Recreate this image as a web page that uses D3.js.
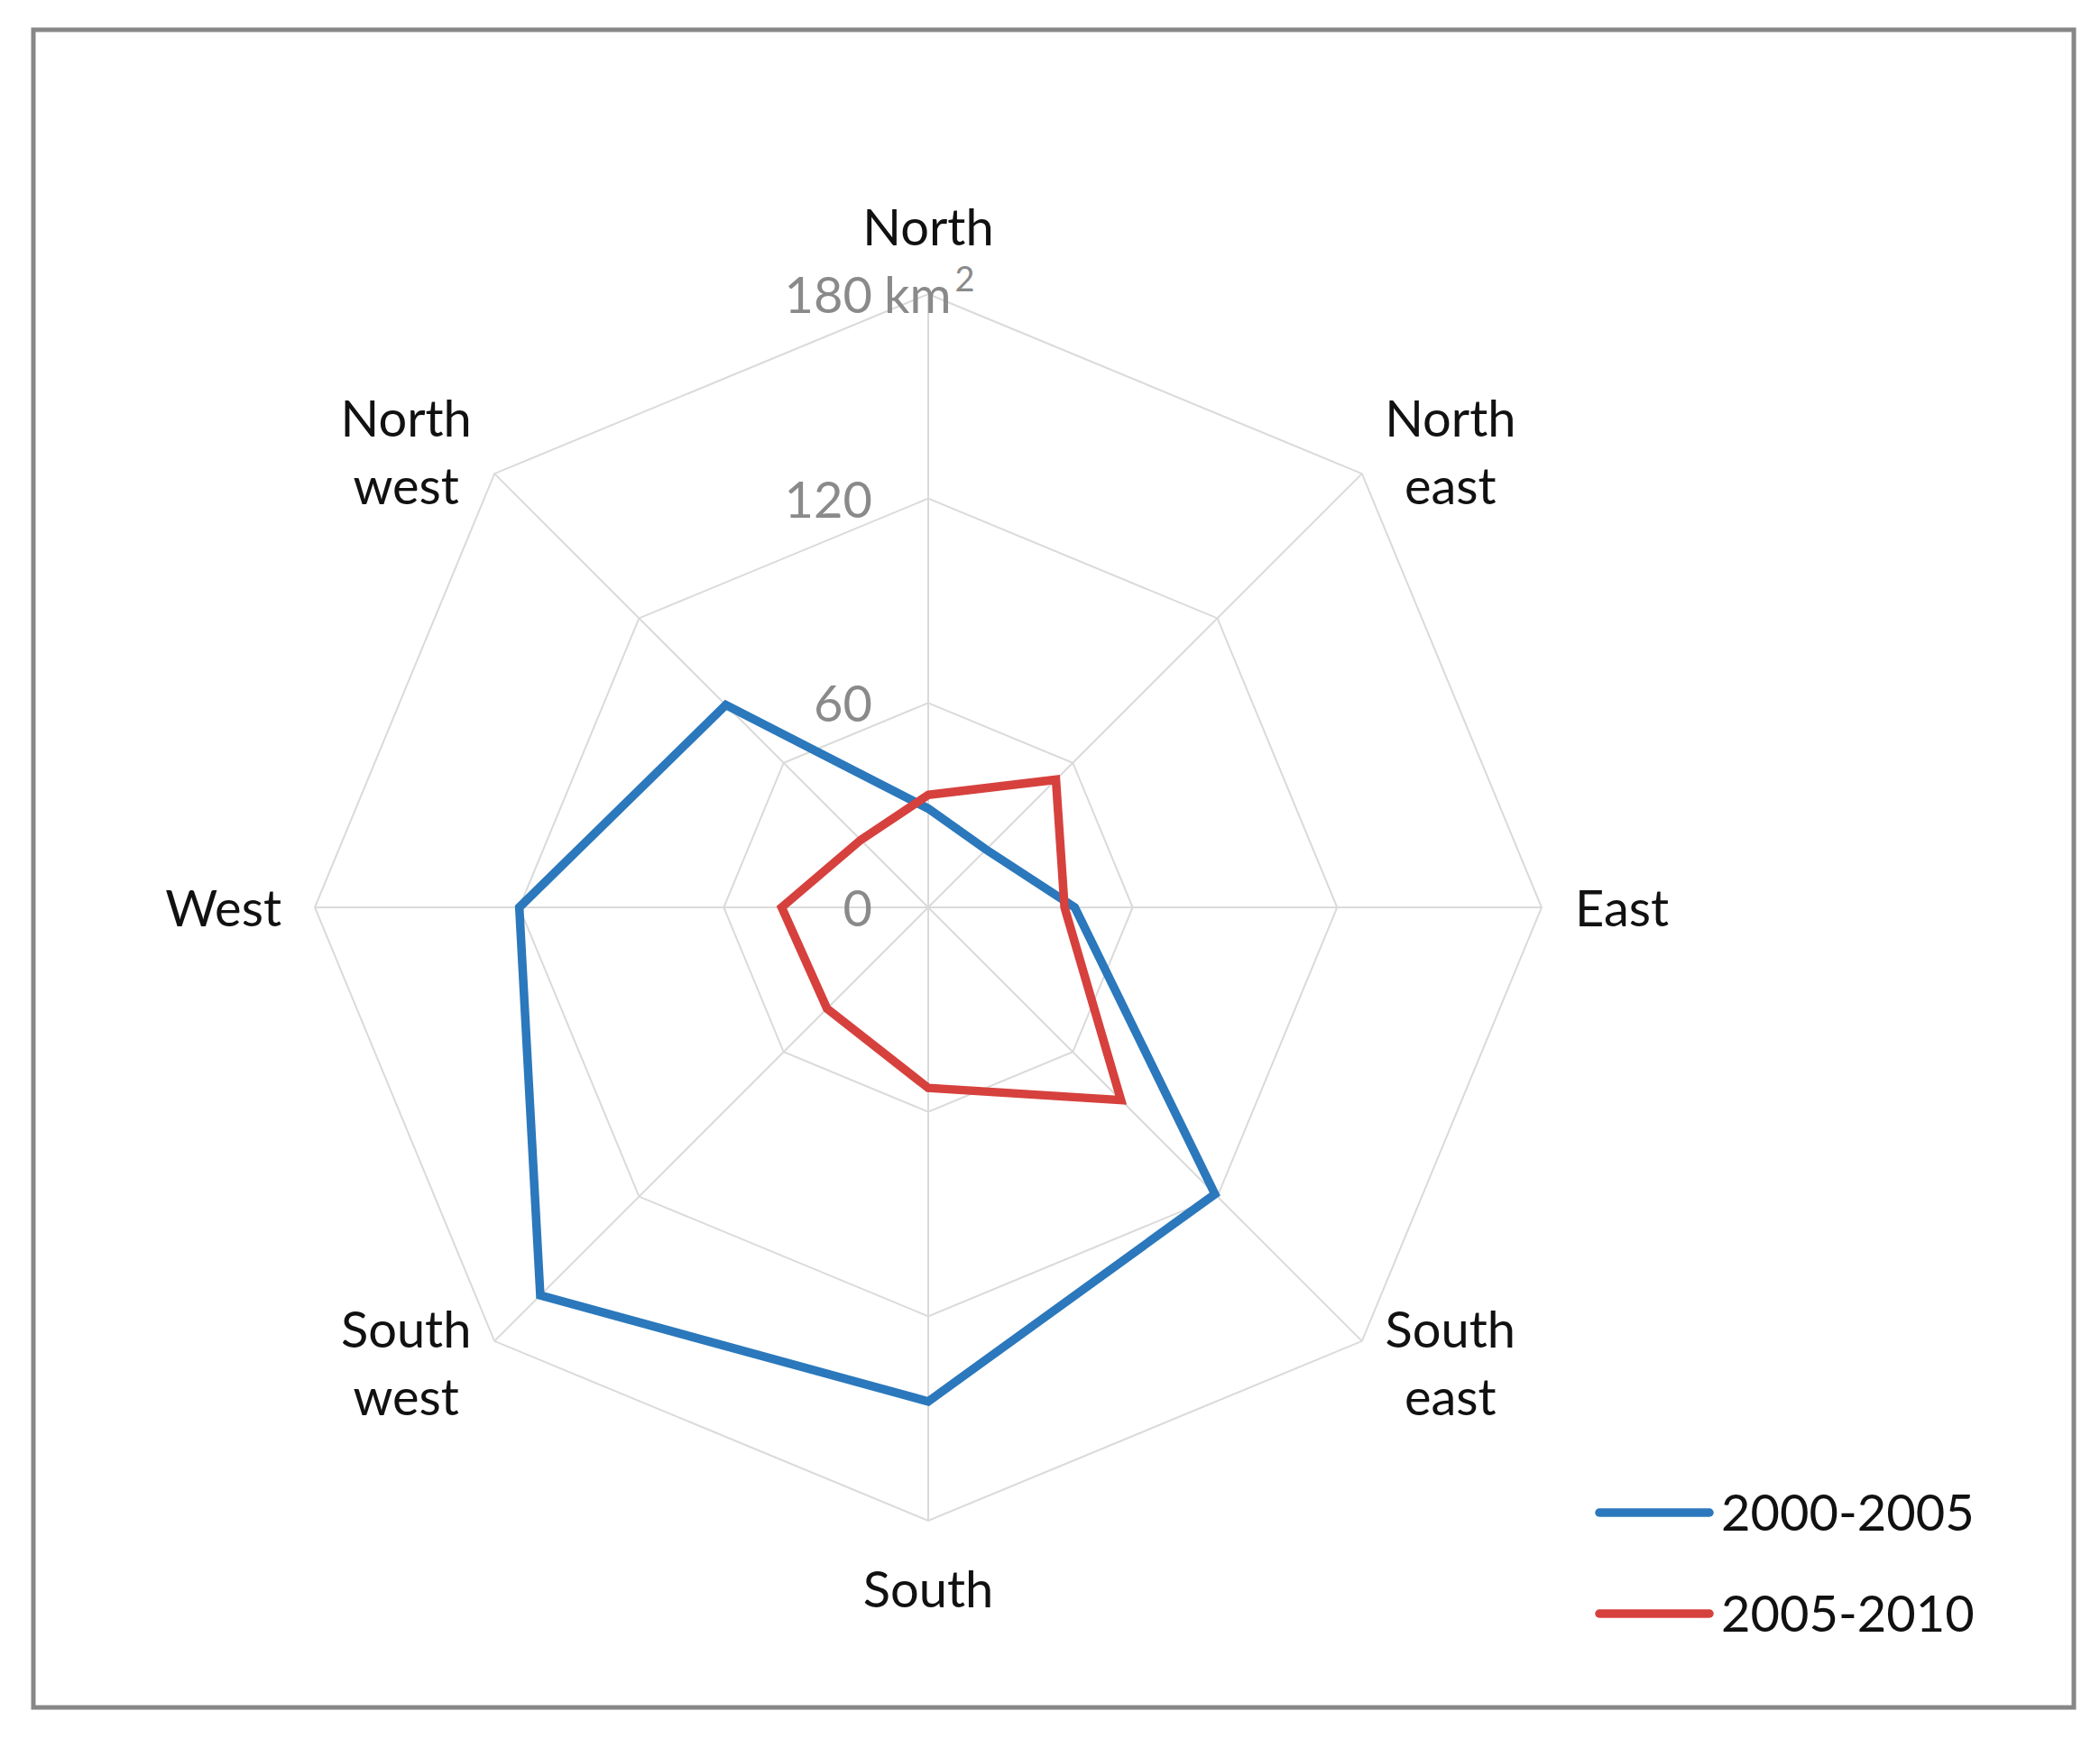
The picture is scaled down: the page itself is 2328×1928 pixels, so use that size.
<!DOCTYPE html>
<html>
<head>
<meta charset="utf-8">
<script src="https://cdn.jsdelivr.net/npm/d3@7"></script>
<style>
  body { margin: 0; background: #fff; }
  text { font-family: Lato, "Noto Sans", sans-serif; }
</style>
</head>
<body>
<div id="chart"></div>
<script>
// directions, clockwise from north
var directions = ['North', 'North east', 'East', 'South east', 'South', 'South west', 'West', 'North west'];
// area in km2 per direction
var series2000 = [29, 24, 43, 119, 145, 161, 120, 84];
var series2005 = [33, 53, 40, 80, 53, 42, 43, 28];
var seriesNames = ['2000-2005', '2005-2010'];
var ticks = [0, 60, 120, 180];

var width = 2328, height = 1928;
var cx = 1029, cy = 1006, R = 680;
var colors = ['#2b78bc', '#d6413d'];

var svg = d3.select('#chart').append('svg')
    .attr('width', width)
    .attr('height', height);

// frame
svg.append('rect')
    .attr('x', 37).attr('y', 33)
    .attr('width', 2262).attr('height', 1860)
    .attr('fill', '#fff')
    .attr('stroke', '#878787')
    .attr('stroke-width', 5);

// scales
var r = d3.scaleLinear().domain([0, 180]).range([0, R]);
var angle = d3.scaleBand().domain(directions).range([0, 2 * Math.PI]).align(0);
function ang(d) { return angle(d); }

var g = svg.append('g').attr('transform', 'translate(' + cx + ',' + cy + ')');

// grid rings
var ringLine = d3.lineRadial()
    .angle(function(d) { return angle(d); })
    .curve(d3.curveLinearClosed);

g.append('g').attr('class', 'rings')
    .selectAll('path')
    .data(ticks.filter(function(t) { return t > 0; }))
    .enter().append('path')
    .attr('d', function(t) { return ringLine.radius(r(t))(directions); })
    .attr('fill', 'none')
    .attr('stroke', '#dadada')
    .attr('stroke-width', 2);

// spokes
g.append('g').attr('class', 'spokes')
    .selectAll('line')
    .data(directions)
    .enter().append('line')
    .attr('x1', 0).attr('y1', 0)
    .attr('x2', function(d) { return r(180) * Math.sin(angle(d)); })
    .attr('y2', function(d) { return -r(180) * Math.cos(angle(d)); })
    .attr('stroke', '#dadada')
    .attr('stroke-width', 2);

// tick labels
var tickG = g.append('g').attr('class', 'ticks');
tickG.selectAll('text')
    .data(ticks)
    .enter().append('text')
    .attr('x', -62)
    .attr('y', function(t) { return -r(t) + 21; })
    .attr('text-anchor', 'end')
    .attr('font-size', 56)
    .attr('fill', '#8a8a8a')
    .text(function(t) { return t; });

var unit = tickG.append('text')
    .attr('x', -49)
    .attr('y', -r(180) + 21)
    .attr('font-size', 56)
    .attr('fill', '#8a8a8a')
    .text('km');
unit.append('tspan')
    .attr('dx', 4)
    .attr('dy', -24)
    .attr('font-size', 38)
    .text('2');

// series polygons
var seriesLine = d3.lineRadial()
    .angle(function(d, i) { return angle(directions[i]); })
    .radius(function(d) { return r(d); })
    .curve(d3.curveLinearClosed);

[series2000, series2005].forEach(function(values, k) {
    g.append('path')
        .datum(values)
        .attr('d', seriesLine)
        .attr('fill', 'none')
        .attr('stroke', colors[k])
        .attr('stroke-width', 9.5)
        .attr('stroke-linejoin', 'miter');
});

// direction labels
var lineH = 75, capH = 41;
var labels = g.append('g').attr('class', 'labels');
directions.forEach(function(d) {
    var a = angle(d), s = Math.sin(a), c = Math.cos(a);
    var words = d.split(' ');
    var x, yc, anchor = 'middle';
    if (Math.abs(s) < 0.01) {
        x = 0; yc = -c * (R + 75);
    } else if (Math.abs(c) < 0.01) {
        x = s * (R + 37); yc = 0; anchor = s > 0 ? 'start' : 'end';
    } else {
        x = R * s + Math.sign(s) * 98;
        yc = -R * c - Math.sign(c) * 24;
    }
    var y0 = yc - (words.length - 1) * lineH / 2 + capH / 2;
    var t = labels.append('text')
        .attr('text-anchor', anchor)
        .attr('font-size', 56)
        .attr('fill', '#111');
    words.forEach(function(w, i) {
        t.append('tspan').attr('x', x).attr('y', y0 + i * lineH).text(w);
    });
});

// legend
var legend = svg.append('g').attr('class', 'legend');
seriesNames.forEach(function(name, k) {
    var y = 1677 + k * 112;
    legend.append('line')
        .attr('x1', 1773).attr('x2', 1895)
        .attr('y1', y).attr('y2', y)
        .attr('stroke', colors[k])
        .attr('stroke-width', 9.5)
        .attr('stroke-linecap', 'round');
    legend.append('text')
        .attr('x', 1908)
        .attr('y', y + 20)
        .attr('font-size', 56)
        .attr('fill', '#111')
        .text(name);
});
</script>
</body>
</html>
